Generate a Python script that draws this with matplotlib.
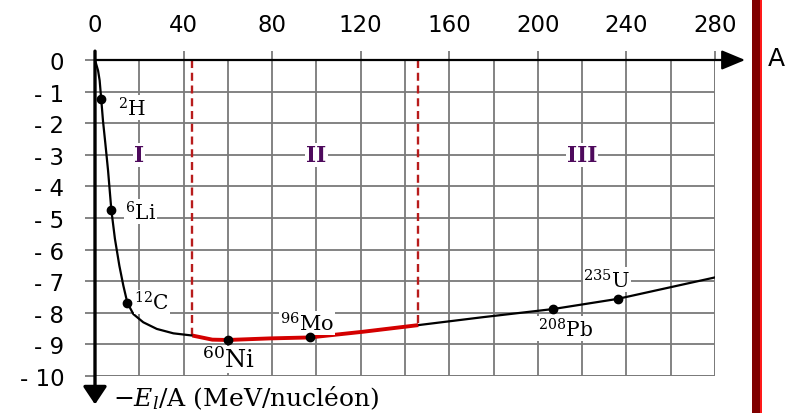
import matplotlib
matplotlib.use("Agg")
import matplotlib.pyplot as plt
from matplotlib.patches import Rectangle
import numpy as np

# ---------------- data ----------------
curve_A = [0, 1.4, 2.1, 2.8, 3.6, 4.7, 5.9, 7.4, 9, 11, 12.8, 14.6, 17.3, 21.8, 27.9, 35.4,
           44, 53, 60, 79, 97, 121, 146, 175, 207, 236, 280]
curve_E = [0, -0.34, -0.65, -1.23, -1.92, -2.66, -3.5, -4.76, -5.66, -6.51, -7.14, -7.68, -8.04,
           -8.3, -8.51, -8.65, -8.72, -8.85, -8.86, -8.81, -8.78, -8.6, -8.39, -8.14, -7.88, -7.56, -6.88]

region_bounds = [44, 146]          # dashed red limits (A)
region_E = [-8.72, -8.39]          # curve value at the limits
region_names = ["I", "II", "III"]
region_A = [20, 100, 220]
region_level = [-3, -3, -3]

nuclide_labels = [r"$^{2}$H", r"$^{6}$Li", r"$^{12}$C", r"$^{60}$Ni", r"$^{96}$Mo", r"$^{208}$Pb", r"$^{235}$U"]
nuclide_A = [2.8, 7.4, 14.6, 60, 97, 207, 236]
nuclide_E = [-1.23, -4.76, -7.68, -8.86, -8.78, -7.88, -7.56]

x_ticks = [0, 40, 80, 120, 160, 200, 240, 280]
x_minor = [20, 60, 100, 140, 180, 220, 260]
y_ticks = [0, -1, -2, -3, -4, -5, -6, -7, -8, -9, -10]
y_ticklabels = ["0", "- 1", "- 2", "- 3", "- 4", "- 5", "- 6", "- 7", "- 8", "- 9", "- 10"]

# ---------------- layout / style ----------------
label_pos = [(16.6, -1.5), (20.6, -4.8), (25.6, -7.66), (60.5, -9.48), (95.8, -8.33), (212.3, -8.5), (231.2, -6.95)]
label_size = [14.5, 14.5, 14.5, 17.5, 15, 14.5, 15]

plt.rcParams["mathtext.fontset"] = "dejavuserif"

W, H = 789, 414
fig = plt.figure(figsize=(W / 100, H / 100), dpi=100)
ax = fig.add_axes([95 / W, (H - 377) / H, 620 / W, 316 / H])
ax.set_xlim(0, 280)
ax.set_ylim(-10, 0)

for s in ax.spines.values():
    s.set_visible(False)

grid_c = "#7a7a7a"
ax.set_xticks(x_ticks)
ax.set_xticks(x_minor, minor=True)
ax.set_yticks(y_ticks)
ax.set_yticklabels(y_ticklabels)
ax.xaxis.tick_top()
ax.tick_params(axis="x", which="major", length=6.5, width=1.3, color=grid_c, pad=11,
               labelsize=16.5, labelcolor="black")
ax.tick_params(axis="x", which="minor", length=0)
ax.tick_params(axis="y", which="major", length=7, width=1.3, color=grid_c, pad=15,
               labelsize=16.5, labelcolor="black")
ax.grid(True, which="both", color=grid_c, lw=1.3, zorder=0)
ax.set_axisbelow(True)
# outer grid border lines
ax.axvline(280, color=grid_c, lw=1.3, zorder=0.5)
ax.axhline(-10, color=grid_c, lw=1.3, zorder=0.5)

# axes with arrows
ax.annotate("", xy=(293.6, 0), xytext=(0, 0), annotation_clip=False,
            arrowprops=dict(arrowstyle="-|>,head_length=0.6,head_width=0.25", lw=1.6,
                            color="black", mutation_scale=24, shrinkA=0, shrinkB=0), zorder=5)
ax.annotate("", xy=(0, -10.9), xytext=(0, 0.28), annotation_clip=False,
            arrowprops=dict(arrowstyle="-|>,head_length=0.45,head_width=0.3", lw=2.4,
                            color="black", mutation_scale=24, shrinkA=0, shrinkB=0), zorder=5)

# dashed region limits
for a, e in zip(region_bounds, region_E):
    ax.plot([a, a], [0, e], color="#b81c1c", lw=1.7, ls=(0, (3.4, 2.0)), zorder=3)

# curve
A = np.array(curve_A)
E = np.array(curve_E)
ax.plot(A, E, color="black", lw=1.6, zorder=4, solid_capstyle="round", solid_joinstyle="round")
m = (A >= region_bounds[0]) & (A <= region_bounds[1])
ax.plot(A[m], E[m], color="#d40000", lw=2.8, zorder=4.5, solid_capstyle="butt", solid_joinstyle="round")

# nuclide points
ax.plot(nuclide_A, nuclide_E, "o", color="black", ms=6, zorder=6, clip_on=False)
for lab, (lx, ly), fs in zip(nuclide_labels, label_pos, label_size):
    ax.text(lx, ly, lab, fontsize=fs, family="DejaVu Serif", ha="center", va="center", zorder=5,
            bbox=dict(facecolor="white", edgecolor="none", pad=0.5))

# region names
for nm, ra, rl in zip(region_names, region_A, region_level):
    ax.text(ra, rl, nm, fontsize=15.5, family="DejaVu Serif", fontweight="bold", color="#4e0a5c",
            ha="center", va="center", zorder=5,
            bbox=dict(facecolor="white", edgecolor="none", pad=0.8))

# axis names
fig.text(776 / W, 1 - 59 / H, "A", fontsize=18, ha="center", va="center", family="DejaVu Sans")
fig.text(113 / W, 1 - 406 / H, r"$-E_l$/A (MeV/nucléon)", fontsize=18, ha="left", va="baseline",
         family="DejaVu Serif")

# dark red bar on the right
fig.add_artist(Rectangle((752 / W, 0), 8 / W, 1, transform=fig.transFigure, color="#800000", lw=0))
fig.add_artist(Rectangle((759.5 / W, 0), 2.2 / W, 1, transform=fig.transFigure, color="#ff1a1a", lw=0))

fig.savefig("out.png", dpi=100)
